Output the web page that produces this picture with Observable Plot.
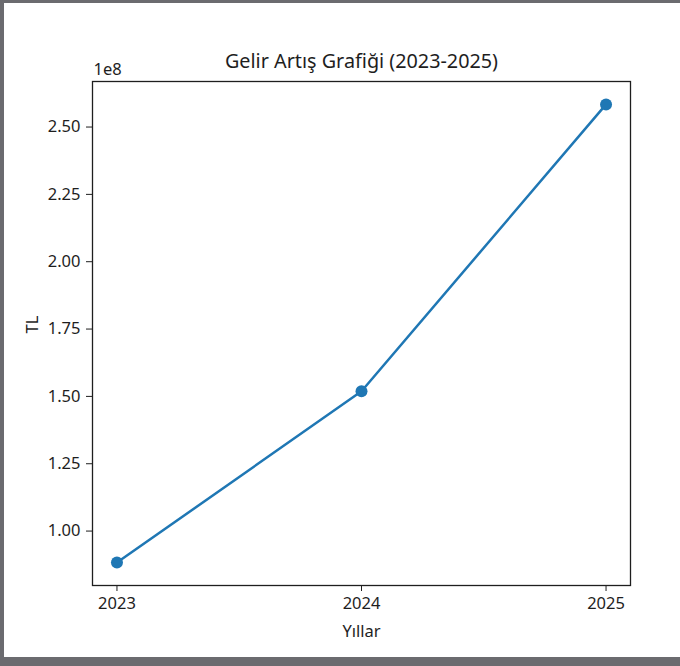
<!DOCTYPE html>
<html>
<head>
<meta charset="utf-8">
<script src="https://cdn.jsdelivr.net/npm/d3@7"></script>
<script src="https://cdn.jsdelivr.net/npm/@observablehq/plot@0.6"></script>
<style>
  html, body { margin: 0; padding: 0; background: #ffffff; }
  #wrap { position: relative; width: 680px; height: 666px; background: #6b6b6f; overflow: hidden; }
  #paper { position: absolute; left: 4px; top: 3px; width: 676px; height: 654px; background: #ffffff; }
  #chart { position: absolute; left: 0; top: 0; }
</style>
</head>
<body>
<div id="wrap"><div id="paper"></div><div id="chart"></div></div>
<script>
const years = [2023, 2024, 2025];
const revenue = [88.3e6, 151.9e6, 258.4e6];
const yTicks = [1.00e8, 1.25e8, 1.50e8, 1.75e8, 2.00e8, 2.25e8, 2.50e8];
const titleText = "Gelir Artış Grafiği (2023-2025)";
const xLabel = "Yıllar";
const yLabel = "TL";
const offsetText = "1e8";

const data = years.map((y, i) => ({year: y, value: revenue[i]}));

// matplotlib-style 5% autoscale margins
const [xmin, xmax] = d3.extent(years);
const xpad = 0.05 * (xmax - xmin);
const [ymin, ymax] = d3.extent(revenue);
const ypad = 0.05 * (ymax - ymin);

const blue = "#1f77b4";
const ink = "#1e1e1e";

const chart = Plot.plot({
  width: 680,
  height: 657,
  marginLeft: 92,
  marginRight: 50,
  marginTop: 81,
  marginBottom: 72,
  style: {background: "transparent", fontFamily: "'Noto Sans', 'DejaVu Sans', sans-serif", fontSize: "16px", color: ink},
  x: {domain: [xmin - xpad, xmax + xpad]},
  y: {domain: [ymin - ypad, ymax + ypad]},
  marks: [
    Plot.axisX({ticks: years, tickFormat: d => String(d), tickSize: 6, tickPadding: 6, label: null, fontSize: 16.5, stroke: ink}),
    Plot.axisY({ticks: yTicks, tickFormat: d => (d / 1e8).toFixed(2), tickSize: 6, tickPadding: 6, label: null, fontSize: 16.5, stroke: ink}),
    Plot.frame({stroke: ink, strokeWidth: 1.3}),
    Plot.line(data, {x: "year", y: "value", stroke: blue, strokeWidth: 2.5}),
    Plot.dot(data, {x: "year", y: "value", r: 6, fill: blue, stroke: null}),
    Plot.text([titleText], {frameAnchor: "top", dy: -20, lineAnchor: "middle", fontSize: 19.8, fill: ink}),
    Plot.text([offsetText], {frameAnchor: "top-left", dx: 1, dy: -12, textAnchor: "start", lineAnchor: "middle", fontSize: 16.5, fill: ink}),
    Plot.text([xLabel], {frameAnchor: "bottom", dy: 46, lineAnchor: "middle", fontSize: 16.5, fill: ink}),
    Plot.text([yLabel], {frameAnchor: "left", dx: -60, rotate: -90, lineAnchor: "middle", fontSize: 16.5, fill: ink})
  ]
});
document.getElementById("chart").appendChild(chart);
</script>
</body>
</html>
